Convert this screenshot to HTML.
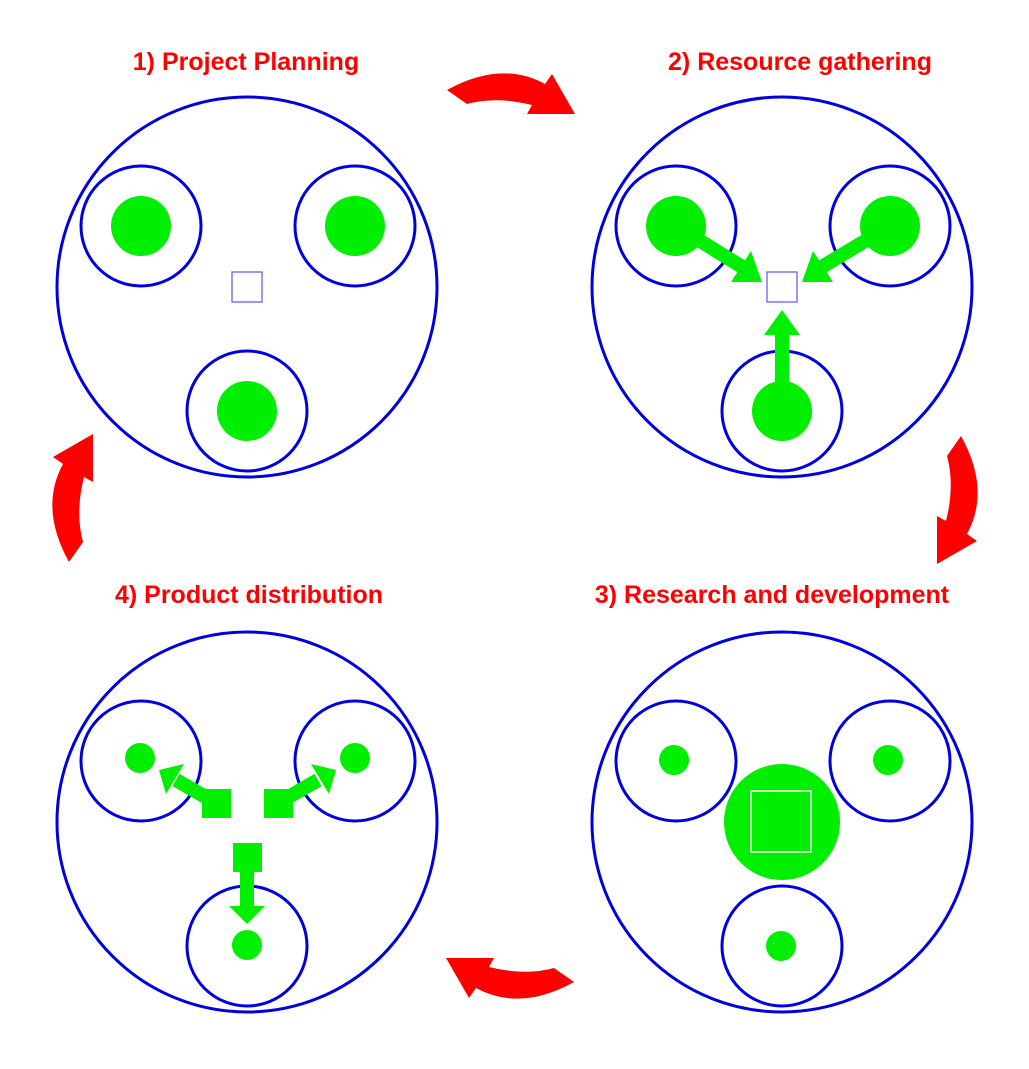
<!DOCTYPE html>
<html><head><style>body{margin:0;background:#fff}</style></head><body>
<svg width="1029" height="1064" xmlns="http://www.w3.org/2000/svg">
<defs>
<path id="ra" d="M -64,-4 Q -10,-34 34,-10 L 41,-20 L 64,20 L 16,20 L 21,11 Q -15,2 -44,10 Z" fill="#ff0000"/>
</defs>
<g font-family="Liberation Sans, sans-serif" font-weight="bold" font-size="25" fill="#ff0000" text-anchor="middle">
<text x="246" y="70">1) Project Planning</text>
<text x="800" y="70">2) Resource gathering</text>
<text x="772" y="603">3) Research and development</text>
<text x="249" y="603">4) Product distribution</text>
</g>
<use href="#ra" transform="translate(511,94)"/>
<use href="#ra" transform="translate(957,500) rotate(90)"/>
<use href="#ra" transform="translate(510,978) rotate(180)"/>
<use href="#ra" transform="translate(73,498) rotate(270)"/>
<g fill="none" stroke="#0000dd" stroke-width="3">
<circle cx="247" cy="287" r="190"/><circle cx="141" cy="226" r="60"/><circle cx="355" cy="226" r="60"/><circle cx="247" cy="411" r="60"/>
<circle cx="782" cy="287" r="190"/><circle cx="676" cy="226" r="60"/><circle cx="890" cy="226" r="60"/><circle cx="782" cy="411" r="60"/>
<circle cx="782" cy="822" r="190"/><circle cx="676" cy="761" r="60"/><circle cx="890" cy="761" r="60"/><circle cx="782" cy="946" r="60"/>
<circle cx="247" cy="822" r="190"/><circle cx="141" cy="761" r="60"/><circle cx="355" cy="761" r="60"/><circle cx="247" cy="946" r="60"/>
</g>
<g fill="#00ee00">
<circle cx="141" cy="226" r="30"/><circle cx="355" cy="226" r="30"/><circle cx="247" cy="411" r="30"/>
<circle cx="676" cy="226" r="30"/><circle cx="890" cy="226" r="30"/><circle cx="782" cy="411" r="30"/>
<circle cx="674" cy="760" r="15"/><circle cx="888" cy="760" r="15"/><circle cx="781" cy="946" r="15"/>
<circle cx="782" cy="822" r="58"/>
<circle cx="140" cy="758" r="15"/><circle cx="355" cy="758" r="15"/><circle cx="247" cy="945" r="15"/>
<rect x="202" y="789" width="29" height="29"/><rect x="264" y="789" width="29" height="29"/><rect x="233" y="843" width="29" height="29"/>
</g>
<g stroke="#00ee00" stroke-width="14">
<line x1="676" y1="226" x2="744" y2="268"/><line x1="890" y1="226" x2="820" y2="268"/><line x1="782" y1="411" x2="782" y2="332"/>
<line x1="216" y1="803" x2="176" y2="780"/><line x1="278" y1="803" x2="318" y2="780"/><line x1="247" y1="860" x2="247" y2="907"/>
</g>
<g fill="#00ee00">
<polygon points="762,282 731,282 751,251"/>
<polygon points="802,282 833,282 813,251"/>
<polygon points="782,310 764,335 800,335"/>
<polygon points="159,770 184,764 166,794"/>
<polygon points="336,770 311,764 329,794"/>
<polygon points="247,924 229,906 265,906"/>
</g>
<rect x="232" y="272" width="30" height="30" fill="none" stroke="#7777ff" stroke-width="1.5"/>
<rect x="767" y="272" width="30" height="30" fill="none" stroke="#7777ff" stroke-width="1.5"/>
<rect x="751" y="791" width="60" height="61" fill="none" stroke="#ffffff" stroke-width="1.5"/>
</svg>
</body></html>
